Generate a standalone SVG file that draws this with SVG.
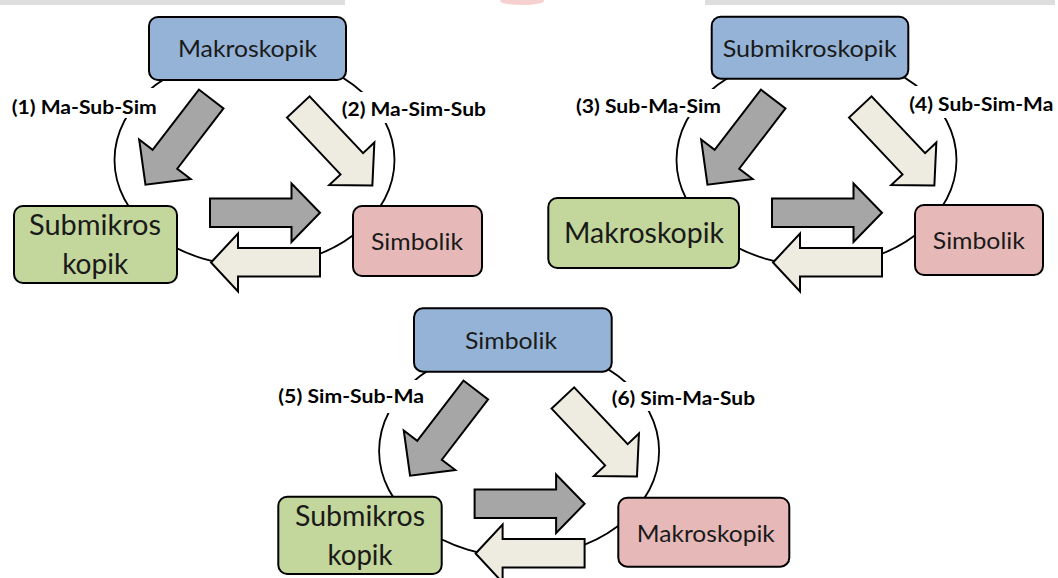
<svg xmlns="http://www.w3.org/2000/svg" width="1058" height="578" viewBox="0 0 1058 578">
<defs>
<style>
.bg{fill:#ffffff}
.box{stroke:#000;stroke-width:2}
.blue{fill:#95B3D7}
.green{fill:#C3D69B}
.pink{fill:#E6B9B8}
.ring{fill:none;stroke:#000;stroke-width:1.8}
.ag{fill:#A6A6A6;stroke:#000;stroke-width:2;stroke-linejoin:miter}
.ab{fill:#EEECE1;stroke:#000;stroke-width:2;stroke-linejoin:miter}
.lblbg{fill:#ffffff}
.lbl{font-family:Lato,"Open Sans","Liberation Sans",sans-serif;font-weight:bold;font-size:19.5px;fill:#000}
.t{font-family:Lato,"Open Sans","Liberation Sans",sans-serif;font-size:24px;fill:#1a1a1a;text-anchor:middle}
.tb{font-family:Lato,"Open Sans","Liberation Sans",sans-serif;font-size:28px;fill:#1a1a1a;text-anchor:middle}
</style>
</defs>
<rect class="bg" x="0" y="0" width="1058" height="578"/>
<g id="top-edge">
<rect x="0" y="0" width="345" height="5" fill="#dedede"/>
<rect x="705" y="0" width="350" height="5" fill="#dedede"/>
<ellipse cx="522" cy="1" rx="22" ry="4" fill="#f6cfcf"/>
</g>

<!-- ===== Diagram 1 ===== -->
<g id="d1-connectors">
<ellipse class="ring" cx="254.5" cy="160" rx="140" ry="106"/>
<polygon class="ag" transform="translate(211.2,99) rotate(127.5)" points="0,-15.5 76,-15.5 76,-32.5 108,0 76,32.5 76,15.5 0,15.5"/>
<polygon class="ab" transform="translate(298.3,107) rotate(46.7)" points="0,-15.5 78,-15.5 78,-31 108,0 78,31 78,15.5 0,15.5"/>
<polygon class="ag" points="210,198.5 291.5,198.5 291.5,183.5 320,212.8 291.5,242 291.5,227 210,227"/>
<polygon class="ab" points="211,262.5 238,233.5 238,248 320,248 320,276.5 238,276.5 238,291.5"/>
</g>
<g id="d1-label1">
<rect class="lblbg" x="8" y="88" width="152" height="30"/>
<text class="lbl" x="11.7" y="113.5" textLength="145" lengthAdjust="spacingAndGlyphs">(1) Ma-Sub-Sim</text>
</g>
<g id="d1-label2">
<rect class="lblbg" x="338" y="92" width="152" height="31"/>
<text class="lbl" x="341.7" y="116" textLength="144.3" lengthAdjust="spacingAndGlyphs">(2) Ma-Sim-Sub</text>
</g>
<g id="d1-makroskopik">
<rect class="box blue" x="149" y="17" width="197" height="63" rx="9"/>
<text class="t" x="247.5" y="57.3" textLength="139" lengthAdjust="spacingAndGlyphs">Makroskopik</text>
</g>
<g id="d1-submikroskopik">
<rect class="box green" x="14" y="206" width="163" height="77" rx="9"/>
<text class="tb" x="95" y="235" textLength="132" lengthAdjust="spacingAndGlyphs">Submikros</text>
<text class="tb" x="95.2" y="273.5" textLength="66" lengthAdjust="spacingAndGlyphs">kopik</text>
</g>
<g id="d1-simbolik">
<rect class="box pink" x="353" y="206" width="129" height="70" rx="9"/>
<text class="t" x="417" y="250" textLength="92" lengthAdjust="spacingAndGlyphs">Simbolik</text>
</g>

<!-- ===== Diagram 2 ===== -->
<g id="d2-connectors" transform="translate(562,0)">
<ellipse class="ring" cx="254.5" cy="160" rx="140" ry="106"/>
<polygon class="ag" transform="translate(211.2,99) rotate(127.5)" points="0,-15.5 76,-15.5 76,-32.5 108,0 76,32.5 76,15.5 0,15.5"/>
<polygon class="ab" transform="translate(298.3,107) rotate(46.7)" points="0,-15.5 78,-15.5 78,-31 108,0 78,31 78,15.5 0,15.5"/>
<polygon class="ag" points="210,198.5 291.5,198.5 291.5,183.5 320,212.8 291.5,242 291.5,227 210,227"/>
<polygon class="ab" points="211,262.5 238,233.5 238,248 320,248 320,276.5 238,276.5 238,291.5"/>
</g>
<g id="d2-label3">
<rect class="lblbg" x="572" y="89" width="153" height="28"/>
<text class="lbl" x="576" y="112.7" textLength="145" lengthAdjust="spacingAndGlyphs">(3) Sub-Ma-Sim</text>
</g>
<g id="d2-label4">
<rect class="lblbg" x="906" y="86" width="152" height="32"/>
<text class="lbl" x="909.3" y="110.5" textLength="144" lengthAdjust="spacingAndGlyphs">(4) Sub-Sim-Ma</text>
</g>
<g id="d2-submikroskopik">
<rect class="box blue" x="711.7" y="16.7" width="196.6" height="62" rx="9"/>
<text class="t" x="809.7" y="57.3" textLength="174" lengthAdjust="spacingAndGlyphs">Submikroskopik</text>
</g>
<g id="d2-makroskopik">
<rect class="box green" x="548.3" y="198" width="190.7" height="70" rx="9"/>
<text class="tb" x="644" y="243.3" textLength="160" lengthAdjust="spacingAndGlyphs">Makroskopik</text>
</g>
<g id="d2-simbolik">
<rect class="box pink" x="915" y="205" width="128" height="70" rx="9"/>
<text class="t" x="978.8" y="248.5" textLength="92" lengthAdjust="spacingAndGlyphs">Simbolik</text>
</g>

<!-- ===== Diagram 3 ===== -->
<g id="d3-connectors" transform="translate(264.6,291)">
<ellipse class="ring" cx="254.5" cy="160" rx="140" ry="106"/>
<polygon class="ag" transform="translate(211.2,99) rotate(127.5)" points="0,-15.5 76,-15.5 76,-32.5 108,0 76,32.5 76,15.5 0,15.5"/>
<polygon class="ab" transform="translate(298.3,107) rotate(46.7)" points="0,-15.5 78,-15.5 78,-31 108,0 78,31 78,15.5 0,15.5"/>
<polygon class="ag" points="210,198.5 291.5,198.5 291.5,183.5 320,212.8 291.5,242 291.5,227 210,227"/>
<polygon class="ab" points="211,262.5 238,233.5 238,248 320,248 320,276.5 238,276.5 238,291.5"/>
</g>
<g id="d3-label5">
<rect class="lblbg" x="275" y="380" width="153" height="33"/>
<text class="lbl" x="278.3" y="402.5" textLength="145.7" lengthAdjust="spacingAndGlyphs">(5) Sim-Sub-Ma</text>
</g>
<g id="d3-label6">
<rect class="lblbg" x="608" y="382" width="150" height="29"/>
<text class="lbl" x="611.7" y="405" textLength="143.3" lengthAdjust="spacingAndGlyphs">(6) Sim-Ma-Sub</text>
</g>
<g id="d3-simbolik">
<rect class="box blue" x="414" y="308.3" width="197.7" height="63.4" rx="9"/>
<text class="t" x="511" y="348.5" textLength="92" lengthAdjust="spacingAndGlyphs">Simbolik</text>
</g>
<g id="d3-submikroskopik">
<rect class="box green" x="278.3" y="496.7" width="163.4" height="77.3" rx="9"/>
<text class="tb" x="360" y="525.7" textLength="130" lengthAdjust="spacingAndGlyphs">Submikros</text>
<text class="tb" x="360" y="564.5" textLength="65" lengthAdjust="spacingAndGlyphs">kopik</text>
</g>
<g id="d3-makroskopik">
<rect class="box pink" x="618.3" y="497.7" width="171" height="69" rx="9"/>
<text class="t" x="705.8" y="541.7" textLength="138" lengthAdjust="spacingAndGlyphs">Makroskopik</text>
</g>
</svg>
